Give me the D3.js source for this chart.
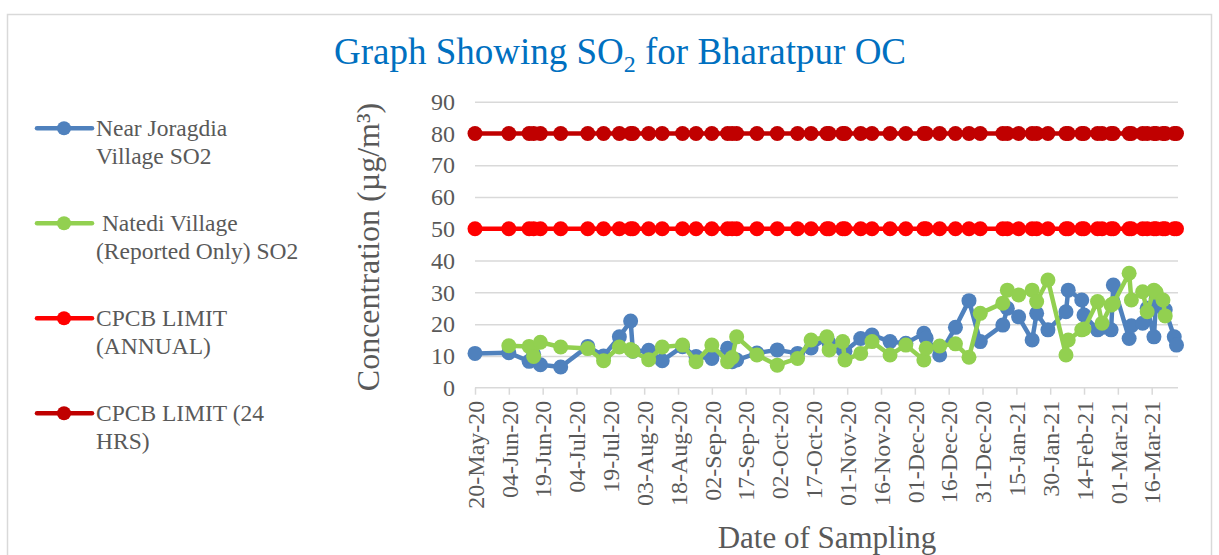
<!DOCTYPE html>
<html lang="en">
<head>
  <meta charset="UTF-8">
  <title>Graph Showing SO2 for Bharatpur OC</title>
  <script src="https://d3js.org/d3.v7.min.js"></script>
  <style>
    body { margin: 0; background: #fff; }
    text { font-family: "Liberation Serif", "Times New Roman", serif; fill: #595959; }
    .grid line { stroke: #d9d9d9; stroke-width: 1.5; }
    .grid path { display: none; }
  </style>
</head>
<body>
  <div class="chart"></div>

  <script>
    // sampling dates
    const dates = [
      "2020-05-20", "2020-06-04", "2020-06-13", "2020-06-15", "2020-06-18", "2020-06-27",
      "2020-07-09", "2020-07-16", "2020-07-23", "2020-07-28", "2020-07-29", "2020-08-05",
      "2020-08-11", "2020-08-20", "2020-08-26", "2020-09-02", "2020-09-09", "2020-09-11",
      "2020-09-13", "2020-09-22", "2020-10-01", "2020-10-10", "2020-10-16", "2020-10-23",
      "2020-10-24", "2020-10-30", "2020-10-31", "2020-11-07", "2020-11-12", "2020-11-20",
      "2020-11-27", "2020-12-05", "2020-12-06", "2020-12-12", "2020-12-19", "2020-12-25",
      "2020-12-30", "2021-01-09", "2021-01-11", "2021-01-16", "2021-01-22", "2021-01-24",
      "2021-01-29", "2021-02-06", "2021-02-07", "2021-02-13", "2021-02-14", "2021-02-20",
      "2021-02-22", "2021-02-26", "2021-02-27", "2021-03-06", "2021-03-07", "2021-03-12",
      "2021-03-14", "2021-03-17", "2021-03-18", "2021-03-21", "2021-03-22", "2021-03-26",
      "2021-03-27"
    ];
    const joragdia = [
      10.8, 11.0, 8.3, 10.5, 7.2, 6.5,
      13.0, 10.0, 16.0, 21.0, 11.5, 11.8,
      8.5, 12.9, 9.8, 9.2, 12.4, 8.2,
      8.7, 10.9, 11.9, 10.8, 12.5, 15.5,
      14.0, 12.0, 11.5, 15.5, 16.6, 14.5,
      14.0, 17.1, 15.6, 10.3, 19.0, 27.4,
      14.5, 19.7, 25.0, 22.3, 15.0, 23.4,
      18.2, 23.9, 30.7, 27.6, 22.9, 18.2,
      19.0, 18.2, 32.3, 15.5, 19.5, 20.3,
      25.0, 16.0, 28.1, 25.0, 24.5, 16.0,
      13.4
    ];
    const natedi = [
      null, 13.2, 13.0, 9.8, 14.3, 12.8,
      12.3, 8.5, 12.8, 12.0, 11.5, 8.8,
      12.8, 13.4, 8.2, 13.4, 8.2, 9.5,
      16.0, 10.3, 7.1, 9.2, 15.0, 16.0,
      11.9, 14.5, 8.7, 10.8, 14.5, 10.3,
      13.4, 8.7, 12.4, 13.1, 13.8, 9.6,
      23.4, 26.6, 30.7, 29.2, 30.7, 27.1,
      33.9, 10.3, 15.0, 18.2, 18.5, 27.1,
      20.3, 26.0, 26.5, 36.0, 27.6, 30.2,
      23.9, 30.7, 30.0, 27.6, 22.6, null,
      null
    ];
    const limitAnnual = 50;
    const limit24h = 80;

    const seriesNames = [
      ["Near Joragdia", "Village SO2"],
      [" Natedi Village", "(Reported Only) SO2"],
      ["CPCB LIMIT", "(ANNUAL)"],
      ["CPCB LIMIT (24", "HRS)"]
    ];
    const seriesColors = ["#4f81bd", "#92d050", "#ff0000", "#c00000"];

    const xTicks = [
      "2020-05-20", "2020-06-04", "2020-06-19", "2020-07-04", "2020-07-19", "2020-08-03",
      "2020-08-18", "2020-09-02", "2020-09-17", "2020-10-02", "2020-10-17", "2020-11-01",
      "2020-11-16", "2020-12-01", "2020-12-16", "2020-12-31", "2021-01-15", "2021-01-30",
      "2021-02-14", "2021-03-01", "2021-03-16"
    ];
    const yTicks = [0, 10, 20, 30, 40, 50, 60, 70, 80, 90];

    const W = 1219, H = 555;
    const plot = { left: 475, right: 1178, top: 101.7, bottom: 387.7 };

    const parse = d3.timeParse("%Y-%m-%d");
    const fmt = d3.timeFormat("%d-%b-%y");

    const svg = d3.select(".chart").append("svg")
      .attr("width", W).attr("height", H);

    // frame
    svg.append("path")
      .attr("d", "M7.5,555 L7.5,14.5 L1211.5,14.5 L1211.5,555")
      .attr("fill", "none").attr("stroke", "#d9d9d9").attr("stroke-width", 1.5);

    const x = d3.scaleTime()
      .domain([parse("2020-05-20"), parse("2021-03-27")])
      .range([plot.left, plot.right - 1.5]);
    const y = d3.scaleLinear().domain([0, 90]).range([plot.bottom, plot.top]);

    // gridlines
    svg.append("g").attr("class", "grid")
      .attr("transform", `translate(${plot.left},0)`)
      .call(d3.axisLeft(y).tickValues(yTicks.slice(1)).tickSize(-(plot.right - plot.left)).tickFormat(""));

    // y labels
    const yAxis = svg.append("g")
      .attr("transform", `translate(${plot.left},0)`)
      .call(d3.axisLeft(y).tickValues(yTicks).tickSize(0).tickPadding(20));
    yAxis.select(".domain").remove();
    yAxis.selectAll("text")
      .style("font-family", "Liberation Serif, serif")
      .style("font-size", "24px").style("fill", "#595959");

    // x axis
    const xAxis = svg.append("g")
      .attr("transform", `translate(0,${plot.bottom})`)
      .call(d3.axisBottom(x).tickValues(xTicks.map(parse)).tickSize(7).tickFormat(fmt));
    xAxis.select(".domain")
      .attr("d", `M${plot.left},0H${plot.right}`)
      .attr("stroke", "#d9d9d9").attr("stroke-width", 1.5);
    xAxis.selectAll(".tick line").attr("stroke", "#d9d9d9").attr("stroke-width", 1.5);
    xAxis.selectAll("text")
      .style("font-family", "Liberation Serif, serif")
      .style("font-size", "24px").style("fill", "#595959")
      .attr("text-anchor", "end")
      .attr("transform", "translate(0,13) rotate(-90)")
      .attr("x", 0).attr("y", 0).attr("dy", "0.34em");

    // series
    const seriesData = [
      dates.map((d, i) => ({ date: parse(d), v: joragdia[i] })),
      dates.map((d, i) => ({ date: parse(d), v: natedi[i] })),
      dates.map(d => ({ date: parse(d), v: limitAnnual })),
      dates.map(d => ({ date: parse(d), v: limit24h }))
    ];
    const line = d3.line().x(d => x(d.date)).y(d => y(d.v));

    seriesData.forEach((s, k) => {
      const pts = s.filter(d => d.v != null);
      const g = svg.append("g");
      g.append("path")
        .attr("d", line(pts))
        .attr("fill", "none")
        .attr("stroke", seriesColors[k])
        .attr("stroke-width", 4.5)
        .attr("stroke-linejoin", "round");
      g.selectAll("circle").data(pts).join("circle")
        .attr("cx", d => x(d.date)).attr("cy", d => y(d.v))
        .attr("r", 7.5)
        .attr("fill", seriesColors[k]);
    });

    // legend
    const legendY = [128.3, 223.3, 318.3, 413.3];
    seriesNames.forEach((lines, k) => {
      const g = svg.append("g").attr("transform", `translate(0,${legendY[k]})`);
      g.append("line").attr("x1", 37).attr("x2", 92).attr("y1", 0).attr("y2", 0)
        .attr("stroke", seriesColors[k]).attr("stroke-width", 4.5).attr("stroke-linecap", "round");
      g.append("circle").attr("cx", 64).attr("cy", 0).attr("r", 7).attr("fill", seriesColors[k]);
      lines.forEach((t, j) => {
        g.append("text")
          .attr("x", 96).attr("y", 8 + j * 28)
          .style("font-size", "23.5px")
          .style("white-space", "pre")
          .text(t);
      });
    });

    // title
    const title = svg.append("text")
      .attr("x", 620).attr("y", 64)
      .attr("text-anchor", "middle")
      .style("font-size", "37px")
      .style("fill", "#0070c0");
    title.append("tspan").text("Graph Showing SO");
    title.append("tspan").attr("dy", 8).style("font-size", "24px").text("2");
    title.append("tspan").attr("dy", -8).text(" for Bharatpur OC");

    // axis titles
    svg.append("text")
      .attr("transform", "translate(379,247) rotate(-90)")
      .attr("text-anchor", "middle")
      .style("font-size", "32px")
      .text("Concentration (µg/m³)");

    svg.append("text")
      .attr("x", 827).attr("y", 548)
      .attr("text-anchor", "middle")
      .style("font-size", "31px")
      .text("Date of Sampling");
  </script>
</body>
</html>
